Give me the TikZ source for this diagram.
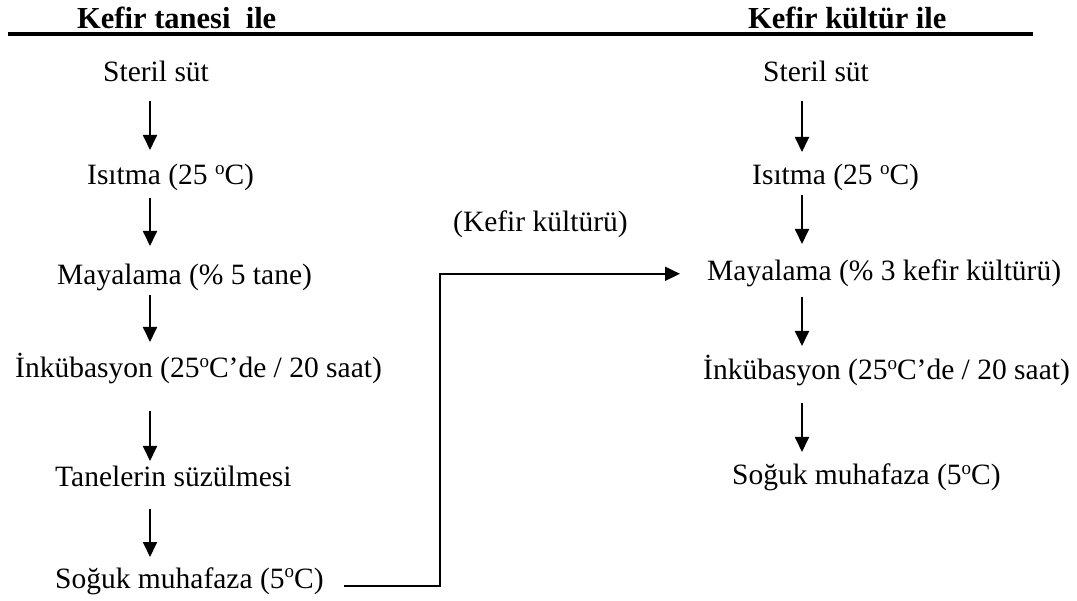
\documentclass[tikz,border=0pt]{standalone}
\usepackage{fontspec}
\setmainfont{Liberation Serif}
\usetikzlibrary{arrows.meta,calc}
\newcommand{\degsup}{\raisebox{0.36em}{\fontsize{19}{19}\selectfont o}}
\begin{document}
\begin{tikzpicture}[x=1pt,y=-1pt,
  txt/.style={anchor=base west,inner sep=0pt,font=\fontsize{29.5}{34}\selectfont},
  head/.style={anchor=base west,inner sep=0pt,font=\fontsize{30.5}{36}\selectfont\bfseries},
  arr/.style={line width=1.8pt,-{Triangle[length=15pt,width=14pt]}},
  rule/.style={line width=4pt}]
\useasboundingbox (0,0) rectangle (1077,601);
\fill[white] (0,0) rectangle (1077,601);
% headings
\node[head] (h1) at (77,29) {Kefir tanesi\ \ ile};
\node[head] (h2) at (748,29) {Kefir kültür ile};
\coordinate (ruleL) at (8,34);
\coordinate (ruleR) at (1033,34);
\draw[rule] (ruleL) -- (ruleR);
% axis coordinates for arrows
\coordinate (lx) at (150,0);
\coordinate (rx) at (802,0);
\coordinate (ck) at (440,0);
% left column
\node[txt] (l1) at (103,82) {Steril süt};
\node[txt] (l2) at (87,185) {Isıtma (25 \degsup C)};
\node[txt] (l3) at (57,285) {Mayalama (\% 5 tane)};
\node[txt] (l4) at (15,378) {İnkübasyon (25\degsup C’de / 20 saat)};
\node[txt] (l5) at (55,487) {Tanelerin süzülmesi};
\node[txt] (l6) at (55,588) {Soğuk muhafaza (5\degsup C)};
% right column
\node[txt] (r1) at (763,82) {Steril süt};
\node[txt] (r2) at (752,185) {Isıtma (25 \degsup C)};
\node[txt] (r3) at (707,281) {Mayalama (\% 3 kefir kültürü)};
\node[txt] (r4) at (703,380) {İnkübasyon (25\degsup C’de / 20 saat)};
\node[txt] (r5) at (732,485) {Soğuk muhafaza (5\degsup C)};
% middle label
\node[txt] (mk) at (453,232) {(Kefir kültürü)};
% left arrows
\draw[arr] ($(l1.base -| lx)+(0,19)$) -- ($(l2.base -| lx)+(0,-35)$);
\draw[arr] ($(l2.base -| lx)+(0,13)$) -- ($(l3.base -| lx)+(0,-39)$);
\draw[arr] ($(l3.base -| lx)+(0,10)$) -- ($(l4.base -| lx)+(0,-36)$);
\draw[arr] ($(l4.base -| lx)+(0,33)$) -- ($(l5.base -| lx)+(0,-26)$);
\draw[arr] ($(l5.base -| lx)+(0,22)$) -- ($(l6.base -| lx)+(0,-31)$);
% right arrows
\draw[arr] ($(r1.base -| rx)+(0,19)$) -- ($(r2.base -| rx)+(0,-33)$);
\draw[arr] ($(r2.base -| rx)+(0,10)$) -- ($(r3.base -| rx)+(0,-37)$);
\draw[arr] ($(r3.base -| rx)+(0,16)$) -- ($(r4.base -| rx)+(0,-34)$);
\draw[arr] ($(r4.base -| rx)+(0,23)$) -- ($(r5.base -| rx)+(0,-33)$);
% connector
\coordinate (cstart) at (344,586);
\draw[arr] (cstart) -- (cstart -| ck) -- (ck |- r3.west) -- ([xshift=-27pt]r3.west);
\end{tikzpicture}
\end{document}
